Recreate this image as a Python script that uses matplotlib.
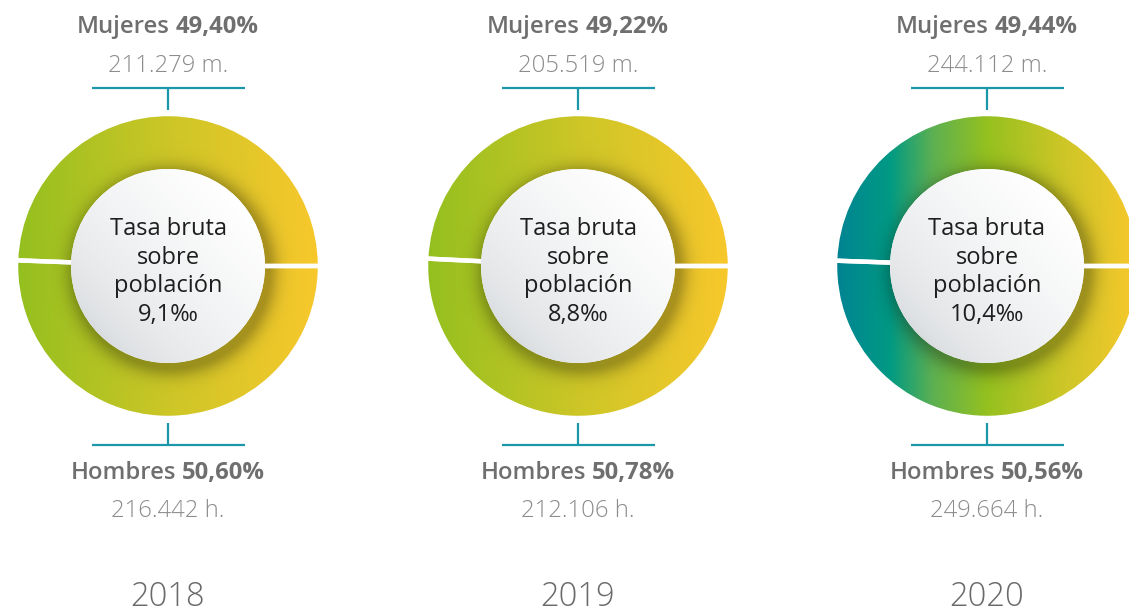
import numpy as np
import matplotlib
matplotlib.use('Agg')
import matplotlib.pyplot as plt
from matplotlib.patches import Circle
from matplotlib.colors import to_rgb

# ---------------- data ----------------
years = ['2018', '2019', '2020']
mujeres_pct = [49.40, 49.22, 49.44]
hombres_pct = [50.60, 50.78, 50.56]
mujeres_abs = ['211.279', '205.519', '244.112']
hombres_abs = ['216.442', '212.106', '249.664']
tasa_bruta = ['9,1', '8,8', '10,4']

gradients = [
    [(0.0, '#93c01f'), (0.5, '#cdc627'), (1.0, '#f8c82c')],
    [(0.0, '#93c01f'), (0.5, '#cdc627'), (1.0, '#f8c82c')],
    [(0.0, '#008393'), (0.18, '#009a84'), (0.32, '#5cb052'), (0.5, '#95c11f'),
     (0.75, '#cdc627'), (1.0, '#f8c82c')],
]

FONT = ['Open Sans', 'DejaVu Sans']
W, H = 1129, 613
fig = plt.figure(figsize=(W / 100, H / 100), dpi=100)
ax = fig.add_axes([0, 0, 1, 1])
renderer = fig.canvas.get_renderer()

centers_x = [168, 578, 987]
cy = 347
R_out = 152
R_in = 97
teal = '#1b97aa'
LBL = 17.2


def fmt_pct(v):
    return f'{v:.2f}'.replace('.', ',') + '%'


def mixed_label(x, y, normal, bold, size, color):
    t1 = ax.text(0, 0, normal, fontsize=size, family=FONT, weight='semibold', color=color)
    t2 = ax.text(0, 0, bold, fontsize=size, family=FONT, weight='bold', color=color)
    w1 = t1.get_window_extent(renderer).width
    w2 = t2.get_window_extent(renderer).width
    gap = size * 100 / 72 * 0.26
    total = w1 + gap + w2
    x0 = x - total / 2
    t1.set_position((x0, y)); t1.set_ha('left'); t1.set_va('baseline')
    t2.set_position((x0 + w1 + gap, y)); t2.set_ha('left'); t2.set_va('baseline')


def gradient_rgb(stops, t):
    pos = [s[0] for s in stops]
    cols = np.array([to_rgb(s[1]) for s in stops])
    return np.stack([np.interp(t, pos, cols[:, k]) for k in range(3)], axis=-1)


for i, cx in enumerate(centers_x):
    vals = [mujeres_pct[i], hombres_pct[i]]
    wedges, _ = ax.pie(vals, center=(cx, cy), radius=R_out, startangle=0,
                       counterclock=True,
                       wedgeprops=dict(width=R_out - R_in + 20, facecolor='none',
                                       edgecolor='white', linewidth=3.2))
    # gradient + soft shadow image for ring
    n = 2 * R_out
    xs = np.linspace(cx - R_out, cx + R_out, n)
    ys = np.linspace(cy - R_out, cy + R_out, n)
    X, Y = np.meshgrid(xs, ys)
    t = (X - (cx - R_out)) / (2 * R_out)
    rgb = gradient_rgb(gradients[i], t)
    dx, dy = 4, -5
    d = np.hypot(X - (cx + dx), Y - (cy + dy)) - R_in
    shadow = 0.27 * np.exp(-(np.clip(d, 0, None) / 11.0) ** 1.6)
    rgb = rgb * (1 - shadow[..., None])
    for wdg in wedges:
        wdg.set_zorder(3)
        im = ax.imshow(rgb, extent=[cx - R_out, cx + R_out, cy - R_out, cy + R_out],
                       origin='lower', aspect='auto', interpolation='bilinear', zorder=2)
        im.set_clip_path(wdg)

    # inner circle
    circ = Circle((cx, cy), R_in, facecolor='white', edgecolor='none', zorder=4)
    ax.add_patch(circ)
    m = 2 * R_in
    xs2 = np.linspace(-R_in, R_in, m)
    X2, Y2 = np.meshgrid(xs2, xs2)
    u = (X2 + Y2) / (2 * R_in * np.sqrt(2)) + 0.5
    u = np.clip(u, 0, 1)
    g0 = np.array(to_rgb('#d8dbde'))
    g1 = np.array([1.0, 1.0, 1.0])
    crgb = g0 + (g1 - g0) * (u[..., None] ** 0.6)
    imc = ax.imshow(crgb, extent=[cx - R_in, cx + R_in, cy - R_in, cy + R_in],
                    origin='lower', aspect='auto', interpolation='bilinear', zorder=5)
    imc.set_clip_path(circ)

    center_lines = ['Tasa bruta', 'sobre', 'población', tasa_bruta[i] + '‰']
    for k, line in enumerate(center_lines):
        ax.text(cx, 378 - k * 28.7, line, ha='center', va='baseline', fontsize=17,
                family=FONT, color='#1e1e1e', zorder=6)

    # brackets
    ax.plot([cx - 76, cx + 77], [525, 525], color=teal, lw=1.6, solid_capstyle='butt')
    ax.plot([cx, cx], [525, 503], color=teal, lw=1.6, solid_capstyle='butt')
    ax.plot([cx - 76, cx + 77], [168, 168], color=teal, lw=1.6, solid_capstyle='butt')
    ax.plot([cx, cx], [190, 168], color=teal, lw=1.6, solid_capstyle='butt')

    mixed_label(cx, 580, 'Mujeres', fmt_pct(mujeres_pct[i]), LBL, '#6f6f6f')
    ax.text(cx, 541, mujeres_abs[i] + ' m.', ha='center', va='baseline', fontsize=LBL,
            family=FONT, weight='light', color='#8c8c8c')
    mixed_label(cx, 134, 'Hombres', fmt_pct(hombres_pct[i]), LBL, '#6f6f6f')
    ax.text(cx, 96, hombres_abs[i] + ' h.', ha='center', va='baseline', fontsize=LBL,
            family=FONT, weight='light', color='#8c8c8c')
    ax.text(cx, 7, years[i], ha='center', va='baseline', fontsize=23.5,
            family=FONT, weight='light', color='#6a6a6a')

ax.set_xlim(0, W)
ax.set_ylim(0, H)
ax.set_aspect('auto')
ax.axis('off')
fig.savefig('out.png', dpi=100, facecolor='white')
